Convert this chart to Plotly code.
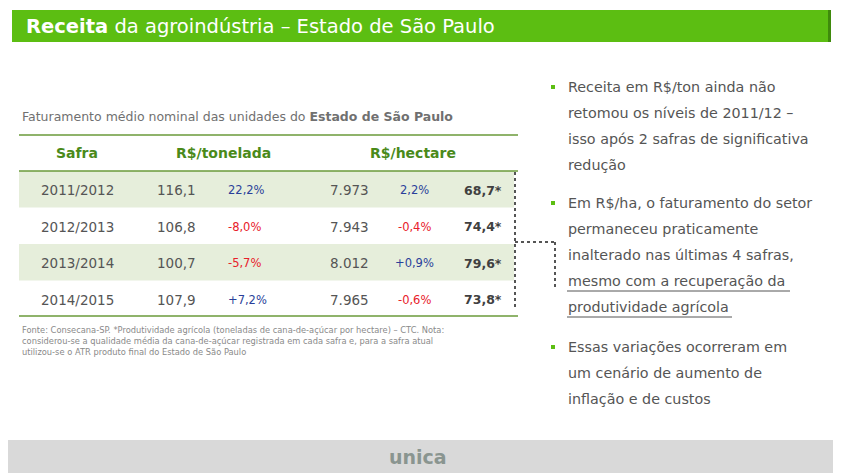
import plotly.graph_objects as go

# table data
safras = ['2011/2012', '2012/2013', '2013/2014', '2014/2015']
rs_ton = ['116,1', '106,8', '100,7', '107,9']
var_ton = ['22,2%', '-8,0%', '-5,7%', '+7,2%']
rs_ha = ['7.973', '7.943', '8.012', '7.965']
var_ha = ['2,2%', '-0,4%', '+0,9%', '-0,6%']
produtividade = ['68,7*', '74,4*', '79,6*', '73,8*']

bullets = [
    ['Receita em R$/ton ainda não', 'retomou os níveis de 2011/12 –',
     'isso após 2 safras de significativa', 'redução'],
    ['Em R$/ha, o faturamento do setor', 'permaneceu praticamente',
     'inalterado nas últimas 4 safras,', 'mesmo com a recuperação da',
     'produtividade agrícola'],
    ['Essas variações ocorreram em', 'um cenário de aumento de',
     'inflação e de custos'],
]
underlined = {(1, 3): 790, (1, 4): 732}

W, H = 841, 473
OFF = 8  # page body margin
GREEN = '#5cbe12'
DARK_GREEN = '#4a8a1a'
GRAY = '#555555'
FONT = 'DejaVu Sans'

fig = go.Figure()
shapes = []
ann = []


def txt(x, y, s, size=13, color=GRAY, anchor='left', bold=False, family=FONT):
    if bold:
        s = '<b>' + s + '</b>'
    ann.append(dict(x=x, y=y, text=s, showarrow=False, xanchor=anchor, yanchor='middle',
                    font=dict(size=size, color=color, family=family)))


def pct_color(v):
    return '#e8202a' if v.startswith('-') else '#2a3f9a'


# header bar
shapes.append(dict(type='rect', x0=12, x1=828, y0=10, y1=42, fillcolor=GREEN, line_width=0))
shapes.append(dict(type='rect', x0=828, x1=831, y0=10, y1=42, fillcolor='#3f8a0c', line_width=0))
txt(24, 26, '<b>Receita</b> da agroindústria – Estado de São Paulo', size=19.5, color='white')

# table
txt(20, 116, 'Faturamento médio nominal das unidades do <b>Estado de São Paulo</b>', size=12.5, color='#707070')
row_top, row_h = 171, 36.5
for y in [135, 171, 316]:
    shapes.append(dict(type='line', x0=19, x1=518, y0=y, y1=y, line=dict(color='#6a9a3a', width=1.5)))
txt(77, 153, 'Safra', size=14, color=DARK_GREEN, anchor='center', bold=True)
txt(223, 153, 'R$/tonelada', size=14, color=DARK_GREEN, anchor='center', bold=True)
txt(413, 153, 'R$/hectare', size=14, color=DARK_GREEN, anchor='center', bold=True)

for i, s in enumerate(safras):
    y0 = row_top + i * row_h
    yc = y0 + row_h / 2 + 1
    if i % 2 == 0:
        shapes.append(dict(type='rect', x0=19, x1=514, y0=y0, y1=y0 + row_h,
                           fillcolor='#e6eedb', line_width=0, layer='below'))
    txt(77, yc, s, size=13.5, anchor='center')
    txt(198, yc, rs_ton[i], size=13.5, anchor='right')
    txt(226, yc, var_ton[i], size=11.5, color=pct_color(var_ton[i]))
    txt(371, yc, rs_ha[i], size=13.5, anchor='right')
    txt(414, yc, var_ha[i], size=11.5, color=pct_color(var_ha[i]), anchor='center')
    txt(504, yc, produtividade[i], size=12.5, color='#404040', anchor='right', bold=True)

dot = dict(color='#555555', width=2, dash='dot')
shapes.append(dict(type='line', x0=515, x1=515, y0=172, y1=308, line=dot))
shapes.append(dict(type='line', x0=515, x1=555, y0=242, y1=242, line=dot))
shapes.append(dict(type='line', x0=555, x1=555, y0=242, y1=288, line=dot))

note = ('Fonte: Consecana-SP. *Produtividade agrícola (toneladas de cana-de-açúcar por hectare) – CTC. Nota:<br>'
        'considerou-se a qualidade média da cana-de-açúcar registrada em cada safra e, para a safra atual<br>'
        'utilizou-se o ATR produto final do Estado de São Paulo')
ann.append(dict(x=20, y=323, text=note, showarrow=False, xanchor='left', yanchor='top', align='left',
                font=dict(size=8.3, color='#8a8a8a', family=FONT)))

# bullets on the right
starts = [87, 203, 347]
for b, lines in enumerate(bullets):
    shapes.append(dict(type='rect', x0=551, x1=555, y0=starts[b] - 2, y1=starts[b] + 2,
                       fillcolor=GREEN, line_width=0))
    for j, line in enumerate(lines):
        y = starts[b] + j * 26
        txt(566, y, line, size=14.3)
        if (b, j) in underlined:
            shapes.append(dict(type='line', x0=567, x1=underlined[(b, j)], y0=y + 10, y1=y + 10,
                               line=dict(color=GRAY, width=1)))

# footer
shapes.append(dict(type='rect', x0=0, x1=W + OFF, y0=440, y1=H + OFF, fillcolor='#d9d9d9', line_width=0))
txt(418, 457, 'unica', size=19, color='#8a9590', anchor='center', bold=True)

fig.update_layout(
    width=W, height=H, margin=dict(l=0, r=0, t=0, b=0),
    plot_bgcolor='white', paper_bgcolor='white', showlegend=False,
    xaxis=dict(range=[OFF, W + OFF], visible=False, fixedrange=True),
    yaxis=dict(range=[H + OFF, OFF], visible=False, fixedrange=True),
    shapes=shapes, annotations=ann,
)
fig.write_html('out.html')
